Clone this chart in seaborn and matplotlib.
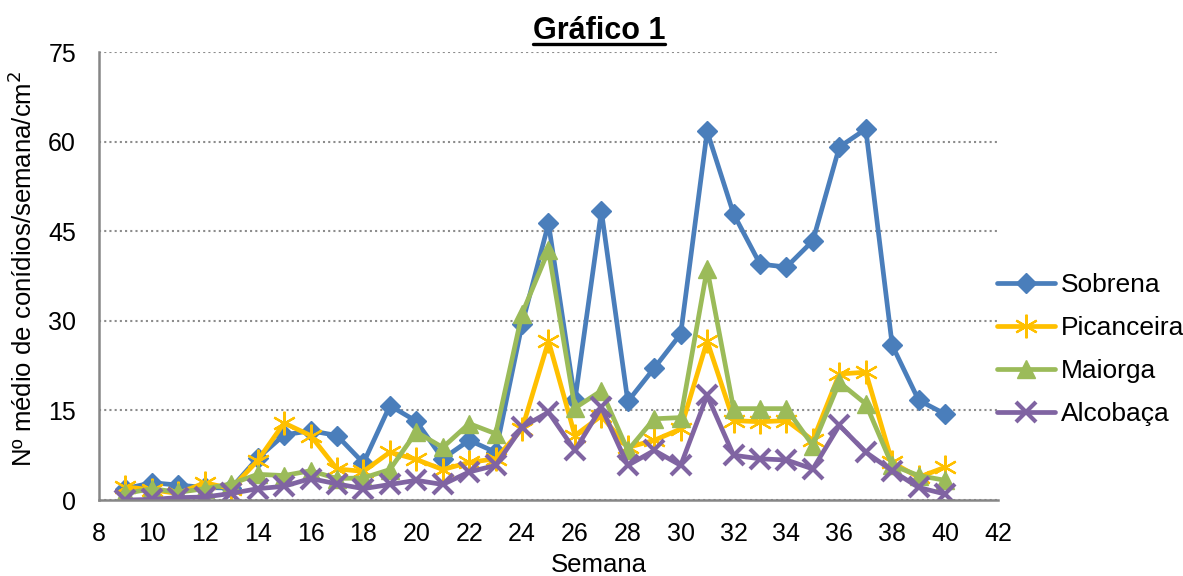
import matplotlib
matplotlib.use("Agg")
import matplotlib.pyplot as plt
from matplotlib.lines import Line2D
import numpy as np
import pandas as pd
import seaborn as sns

# ---------------------------------------------------------------------------
# Data
# ---------------------------------------------------------------------------
semanas = list(range(9, 41))

sobrena = [1.9, 2.9, 2.5, 2.1, 2.0, 7.0, 10.9, 11.6, 10.8, 6.2,
           15.8, 13.2, 6.9, 10.0, 8.0, 29.4, 46.3, 16.7, 48.4, 16.5,
           22.1, 27.8, 61.7, 47.9, 39.5, 39.0, 43.4, 59.1, 62.1, 25.9,
           16.7, 14.4]
picanceira = [2.2, 1.7, 1.1, 2.9, 1.9, 6.6, 12.9, 10.8, 5.2, 4.8,
              8.0, 6.8, 5.1, 6.3, 6.9, 11.9, 26.6, 10.8, 14.1, 8.8,
              10.0, 11.9, 26.6, 13.3, 13.1, 13.3, 10.0, 21.1, 21.4, 6.3,
              3.8, 5.5]
maiorga = [1.1, 1.9, 1.3, 1.9, 2.7, 4.3, 4.1, 4.9, 3.6, 3.7,
           5.1, 11.4, 8.8, 12.8, 11.1, 31.2, 41.8, 15.4, 18.3, 8.3,
           13.6, 13.8, 38.7, 15.3, 15.3, 15.3, 9.1, 19.7, 16.1, 5.8,
           4.1, 3.3]
alcobaca = [0.0, 0.1, 0.4, 0.5, 1.1, 1.9, 2.3, 3.6, 2.7, 1.9,
            2.6, 3.3, 2.6, 4.7, 5.8, 12.2, 14.7, 8.3, 15.5, 5.8,
            8.3, 5.8, 17.5, 7.5, 6.9, 6.7, 5.2, 12.5, 8.0, 4.9,
            2.1, 1.0]

series_names = ["Sobrena", "Picanceira", "Maiorga", "Alcobaça"]
series_values = [sobrena, picanceira, maiorga, alcobaca]

x_ticks = list(range(8, 43, 2))
y_ticks = [0, 15, 30, 45, 60, 75]

# ---------------------------------------------------------------------------
# Style
# ---------------------------------------------------------------------------
sns.set_style("white")
plt.rcParams["font.family"] = ["Liberation Sans", "DejaVu Sans"]
plt.rcParams["text.color"] = "black"
plt.rcParams["axes.labelcolor"] = "black"

colours = ["#4A7EBB", "#FFC000", "#9BBB59", "#8064A2"]
markers = ["D", (6, 2, 0), "^", "x"]
msizes = [10.5, 17, 13, 15]
mews = [1.0, 1.6, 1.0, 3.0]

fig = plt.figure(figsize=(11.83, 5.76), dpi=100)
ax = fig.add_axes([0.0837, 0.1319, 0.7599, 0.7778])

df = pd.DataFrame({"Semana": semanas})
for name, vals in zip(series_names, series_values):
    df[name] = vals

for name, c, m, ms, mew in zip(series_names, colours, markers, msizes, mews):
    sns.lineplot(data=df, x="Semana", y=name, ax=ax, color=c, lw=3.4,
                 marker=m, markersize=ms, markeredgecolor=c,
                 markerfacecolor=c, markeredgewidth=mew,
                 solid_joinstyle="round", solid_capstyle="round",
                 label=name)

ax.set_xlim(8, 42)
ax.set_ylim(0, 75)
ax.set_xticks(x_ticks)
ax.set_yticks(y_ticks)
ax.tick_params(axis="both", labelsize=18, colors="#868686", labelcolor="black",
               direction="out", length=5.5, width=1.5)
ax.tick_params(axis="y", pad=11)
ax.tick_params(axis="x", pad=10)

for side in ["top", "right"]:
    ax.spines[side].set_visible(False)
for side in ["left", "bottom"]:
    ax.spines[side].set_color("#868686")
    ax.spines[side].set_linewidth(1.8)

ax.yaxis.grid(True, color="#8c8c8c", linestyle=(0, (1, 1.5)), lw=1.5)
ax.set_axisbelow(True)

ax.set_xlabel("Semana", fontsize=18.5, va="top", color="black")
ax.xaxis.set_label_coords(0.556, -0.118)
ax.set_ylabel("Nº médio de conídios/semana/cm$^2$", fontsize=18.5,
              va="center", color="black")
ax.yaxis.set_label_coords(-0.0845, 0.516)

leg = ax.legend(loc="center left", bbox_to_anchor=(0.834, 0.393),
                bbox_transform=fig.transFigure, frameon=False, fontsize=19,
                handlelength=2.2, handletextpad=0.2, labelspacing=0.72,
                borderaxespad=0)
for t in leg.get_texts():
    t.set_color("black")

# Title, underlined
title = fig.text(0.5063, 0.932, "Gráfico 1", ha="center", va="baseline",
                 fontsize=22, fontweight="bold", color="black")
fig.canvas.draw()
bb = title.get_window_extent()
inv = fig.transFigure.inverted()
(x0, y0), (x1, y1) = inv.transform([(bb.x0, bb.y0), (bb.x1, bb.y1)])
fig.add_artist(Line2D([x0, x1], [0.924, 0.924], transform=fig.transFigure,
                      color="black", lw=2.4))

fig.savefig("out.png", dpi=100)
